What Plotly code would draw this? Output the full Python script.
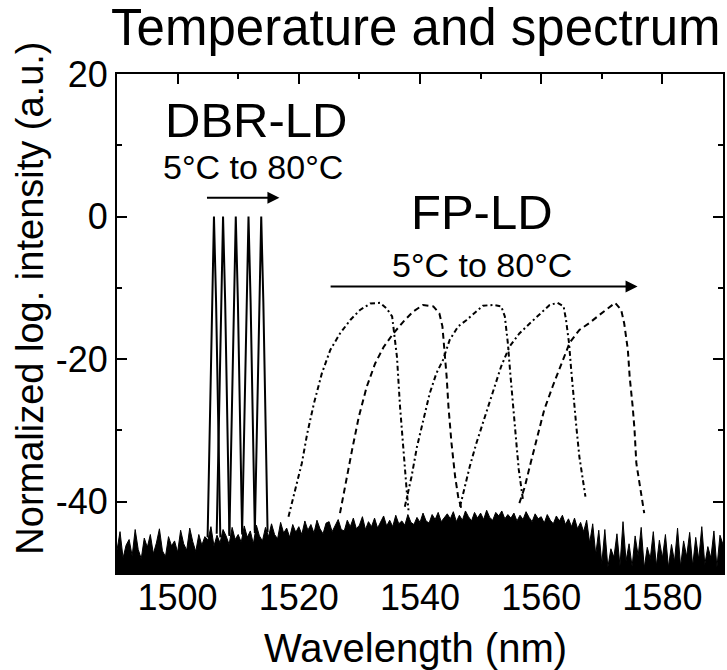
import plotly.graph_objects as go

# ---------------- text ----------------
title_text = "Temperature and spectrum"
x_label = "Wavelength (nm)"
y_label = "Normalized log. intensity (a.u.)"
x_tick_vals = [1500, 1520, 1540, 1560, 1580]
x_tick_labels = ["1500", "1520", "1540", "1560", "1580"]
y_tick_vals = [-40, -20, 0, 20]
y_tick_labels = ["-40", "-20", "0", "20"]

# ---------------- noise floor (sampled every 0.5 nm from 1490 nm) ----------------
noise_start = 1490.0
noise_step = 0.5
noise_db = [
    -46.8, -44.2, -47.9, -46.1, -45.3, -47.6, -43.9, -46.7, -48.0, -45.1,
    -46.4, -44.6, -47.3, -45.8, -43.8, -46.9, -47.7, -44.9, -46.2, -45.5,
    -47.1, -44.0, -45.9, -46.8, -43.7, -45.6, -47.0, -44.6, -46.1, -44.9,
    -45.4, -43.5, -46.2, -44.7, -45.8, -43.9, -44.8, -46.0, -43.6, -45.3,
    -44.6, -45.7, -43.4, -45.0, -44.1, -45.9, -43.3, -44.8, -45.5, -43.6,
    -44.9, -43.1, -44.6, -45.2, -42.9, -44.4, -43.7, -45.0, -43.2, -44.3,
    -43.5, -44.6, -42.7, -44.0, -43.2, -44.4, -42.6, -43.8, -44.5, -43.0,
    -42.8, -44.2, -43.4, -42.5, -43.9, -44.1, -42.6, -43.5, -42.3, -43.8,
    -43.3, -42.1, -43.9, -42.8, -43.5, -42.3, -43.7, -42.9, -42.0, -43.4,
    -42.6, -43.5, -41.9, -43.1, -42.7, -43.3, -41.8, -42.9, -43.2, -42.2,
    -42.9, -41.6, -42.7, -43.0, -41.8, -42.5, -41.5, -42.8, -42.2, -41.7,
    -42.4, -41.4, -42.8, -41.9, -42.6, -41.3, -42.1, -42.7, -41.5, -42.3,
    -41.6, -42.5, -41.2, -42.2, -42.6, -41.5, -42.0, -41.3, -42.4, -41.8,
    -42.3, -41.6, -42.7, -41.9, -42.5, -41.4, -42.2, -42.8, -41.7, -42.4,
    -42.1, -43.0, -41.8, -42.6, -43.1, -42.0, -42.7, -41.9, -43.2, -42.4,
    -43.5, -42.3, -43.8, -42.9, -44.2, -42.6, -45.8, -43.1, -47.4, -44.0,
    -48.7, -43.9, -49.2, -46.6, -47.8, -44.5, -49.0, -42.8, -48.3, -45.9,
    -49.1, -44.8, -47.6, -43.6, -49.3, -46.4, -48.0, -44.2, -49.0, -45.4,
    -47.9, -44.6, -49.2, -46.0, -48.4, -43.7, -49.1, -45.5, -47.7, -44.3,
    -49.0, -45.0, -48.1, -43.5, -48.8, -46.3, -47.9, -44.1, -49.2, -44.7,
    -46.0,
]

# ---------------- DBR-LD spectra (5 temperatures) ----------------
dbr1_x = [1504.95, 1505.65, 1506.0, 1506.35, 1507.05]
dbr1_y = [-45.0, -12.0, 0.0, -12.0, -45.0]
dbr2_x = [1506.45, 1507.15, 1507.5, 1507.85, 1508.55]
dbr2_y = [-44.5, -12.0, 0.0, -12.0, -44.8]
dbr3_x = [1508.55, 1509.25, 1509.6, 1509.95, 1510.65]
dbr3_y = [-44.6, -12.0, 0.0, -12.0, -44.6]
dbr4_x = [1510.65, 1511.35, 1511.7, 1512.05, 1512.75]
dbr4_y = [-44.2, -12.0, 0.0, -12.0, -44.4]
dbr5_x = [1512.75, 1513.45, 1513.8, 1514.15, 1514.85]
dbr5_y = [-44.0, -12.0, 0.0, -12.0, -44.3]

# ---------------- FP-LD spectra (5 temperatures) ----------------
fp1_x = [1518.3, 1519.4, 1520.5, 1521.4, 1522.5, 1523.8, 1525.2, 1526.8, 1528.5, 1530.1,
         1531.8, 1533.4, 1534.5, 1535.4, 1535.7, 1536.2, 1536.7, 1537.3, 1537.8, 1538.1]
fp1_y = [-42.1, -38.4, -34.6, -30.4, -26.2, -22.0, -18.7, -16.4, -14.5, -13.1,
         -12.2, -12.1, -12.9, -14.0, -16.4, -19.7, -26.6, -33.7, -38.4, -41.2]
fp2_x = [1526.8, 1527.9, 1528.8, 1529.9, 1531.2, 1532.6, 1534.0, 1535.6, 1537.3, 1538.9,
         1540.5, 1542.2, 1543.2, 1543.7, 1544.0, 1544.4, 1544.7, 1545.2, 1545.8, 1546.3, 1546.9]
fp2_y = [-41.6, -36.5, -32.7, -28.1, -23.9, -20.6, -18.3, -16.4, -14.7, -13.3,
         -12.4, -12.6, -13.6, -15.4, -18.3, -22.5, -26.7, -31.8, -36.5, -39.3, -41.2]
fp3_x = [1537.5, 1538.6, 1539.5, 1540.5, 1541.6, 1542.7, 1543.8, 1544.9, 1546.3, 1547.7,
         1549.0, 1550.4, 1552.1, 1553.4, 1554.0, 1554.3, 1554.5, 1554.9, 1555.2, 1555.6,
         1556.0, 1556.3, 1556.7, 1557.0]
fp3_y = [-40.7, -36.5, -32.3, -28.5, -24.8, -22.0, -20.1, -17.3, -15.4, -14.5,
         -13.6, -12.5, -12.4, -12.6, -14.0, -15.9, -17.8, -22.0, -25.2, -29.0,
         -32.7, -35.5, -37.9, -39.8]
fp4_x = [1546.6, 1547.4, 1548.2, 1549.3, 1550.7, 1552.1, 1553.4, 1554.8, 1556.4, 1558.1,
         1559.7, 1561.4, 1562.7, 1563.7, 1564.1, 1564.6, 1564.9, 1565.3, 1565.8, 1566.3,
         1566.9, 1567.3]
fp4_y = [-40.7, -37.9, -35.1, -31.8, -28.1, -24.3, -21.0, -18.2, -16.4, -15.0,
         -13.8, -12.4, -12.1, -12.6, -14.5, -17.8, -21.0, -25.3, -29.5, -33.7,
         -37.4, -39.3]
fp5_x = [1556.4, 1557.3, 1558.1, 1559.2, 1560.5, 1561.9, 1563.3, 1564.7, 1566.3, 1568.0,
         1569.6, 1571.3, 1572.2, 1573.2, 1573.7, 1574.3, 1574.6, 1575.1, 1575.4, 1575.7, 1577.0]
fp5_y = [-40.2, -37.9, -35.1, -31.3, -27.1, -23.8, -20.6, -17.7, -15.9, -14.9,
         -13.8, -12.6, -12.1, -13.1, -15.0, -18.7, -22.5, -26.7, -29.9, -34.6, -41.6]

# ---------------- annotations (data coords) ----------------
dbr_label = "DBR-LD"
fp_label = "FP-LD"
temp_label = "5°C to 80°C"
dbr_label_pos = (1512.9, 13.5)
dbr_temp_pos = (1512.5, 6.9)
dbr_arrow = (1504.6, 1516.8, 2.65)
fp_label_pos = (1550.2, 0.6)
fp_temp_pos = (1550.2, -6.8)
fp_arrow = (1525.0, 1575.9, -9.8)

FONT = "Liberation Sans, Arial, sans-serif"

fig = go.Figure()

# noise floor as a filled jagged area down to the axis bottom
nx = [noise_start + noise_step * i for i in range(len(noise_db))]
fig.add_trace(go.Scatter(
    x=[nx[0]] + nx + [nx[-1]], y=[-50] + noise_db + [-50],
    mode="lines", fill="toself", fillcolor="black",
    line=dict(color="black", width=1), hoverinfo="skip", showlegend=False))

for xs, ys in [(dbr1_x, dbr1_y), (dbr2_x, dbr2_y), (dbr3_x, dbr3_y),
               (dbr4_x, dbr4_y), (dbr5_x, dbr5_y)]:
    fig.add_trace(go.Scatter(x=xs, y=ys, mode="lines",
                             line=dict(color="black", width=2), showlegend=False))

fp_styles = ["5px,3px,2px,3px", "6px,4px", "5px,3px,2px,3px", "5px,3px,2px,3px", "6px,4px"]
for (xs, ys), dsh in zip([(fp1_x, fp1_y), (fp2_x, fp2_y), (fp3_x, fp3_y),
                          (fp4_x, fp4_y), (fp5_x, fp5_y)], fp_styles):
    fig.add_trace(go.Scatter(x=xs, y=ys, mode="lines",
                             line=dict(color="black", width=2, dash=dsh), showlegend=False))

ann = []
ann.append(dict(x=dbr_label_pos[0], y=dbr_label_pos[1], text=dbr_label, showarrow=False,
                font=dict(size=49, family=FONT, color="black"), xanchor="center", yanchor="middle"))
ann.append(dict(x=dbr_temp_pos[0], y=dbr_temp_pos[1], text=temp_label, showarrow=False,
                font=dict(size=34, family=FONT, color="black"), xanchor="center", yanchor="middle"))
ann.append(dict(x=fp_label_pos[0], y=fp_label_pos[1], text=fp_label, showarrow=False,
                font=dict(size=49, family=FONT, color="black"), xanchor="center", yanchor="middle"))
ann.append(dict(x=fp_temp_pos[0], y=fp_temp_pos[1], text=temp_label, showarrow=False,
                font=dict(size=34, family=FONT, color="black"), xanchor="center", yanchor="middle"))
for a0, a1, ay in [dbr_arrow, fp_arrow]:
    ann.append(dict(x=a1, y=ay, ax=a0, ay=ay, xref="x", yref="y", axref="x", ayref="y",
                    showarrow=True, arrowhead=2, arrowsize=1.2, arrowwidth=2, arrowcolor="black",
                    text=""))
# axis titles
ann.append(dict(x=0.492, y=-0.15, xref="paper", yref="paper", text=x_label, showarrow=False,
                font=dict(size=40, family=FONT, color="black"), xanchor="center", yanchor="middle"))
ann.append(dict(x=-0.145, y=0.55, xref="paper", yref="paper", text=y_label, showarrow=False,
                textangle=-90, font=dict(size=38, family=FONT, color="black"),
                xanchor="center", yanchor="middle"))

fig.update_layout(
    width=727, height=670,
    margin=dict(l=117, r=2, t=74, b=97),
    paper_bgcolor="white", plot_bgcolor="white",
    font=dict(family=FONT, color="black", size=36),
    title=dict(text=title_text, x=0.572, xanchor="center", y=0.96, yanchor="middle",
               font=dict(size=51, family=FONT, color="black")),
    annotations=ann,
    showlegend=False,
)
fig.update_xaxes(
    range=[1490, 1590], tickmode="array", tickvals=x_tick_vals, ticktext=x_tick_labels,
    ticks="inside", ticklen=10, tickwidth=2, tickcolor="black", ticklabelstandoff=-8,
    minor=dict(tickmode="linear", tick0=1490, dtick=10, ticks="inside", ticklen=5,
               tickwidth=2, tickcolor="black"),
    showline=True, linewidth=2, linecolor="black", mirror="allticks",
    showgrid=False, zeroline=False,
    tickfont=dict(size=36, family=FONT),
)
fig.update_yaxes(
    range=[-50, 20], tickmode="array", tickvals=y_tick_vals, ticktext=y_tick_labels,
    ticks="inside", ticklen=10, tickwidth=2, tickcolor="black",
    minor=dict(tickmode="linear", tick0=-50, dtick=10, ticks="inside", ticklen=5,
               tickwidth=2, tickcolor="black"),
    showline=True, linewidth=2, linecolor="black", mirror="allticks",
    showgrid=False, zeroline=False,
    tickfont=dict(size=36, family=FONT),
)

fig.write_html("out.html")
